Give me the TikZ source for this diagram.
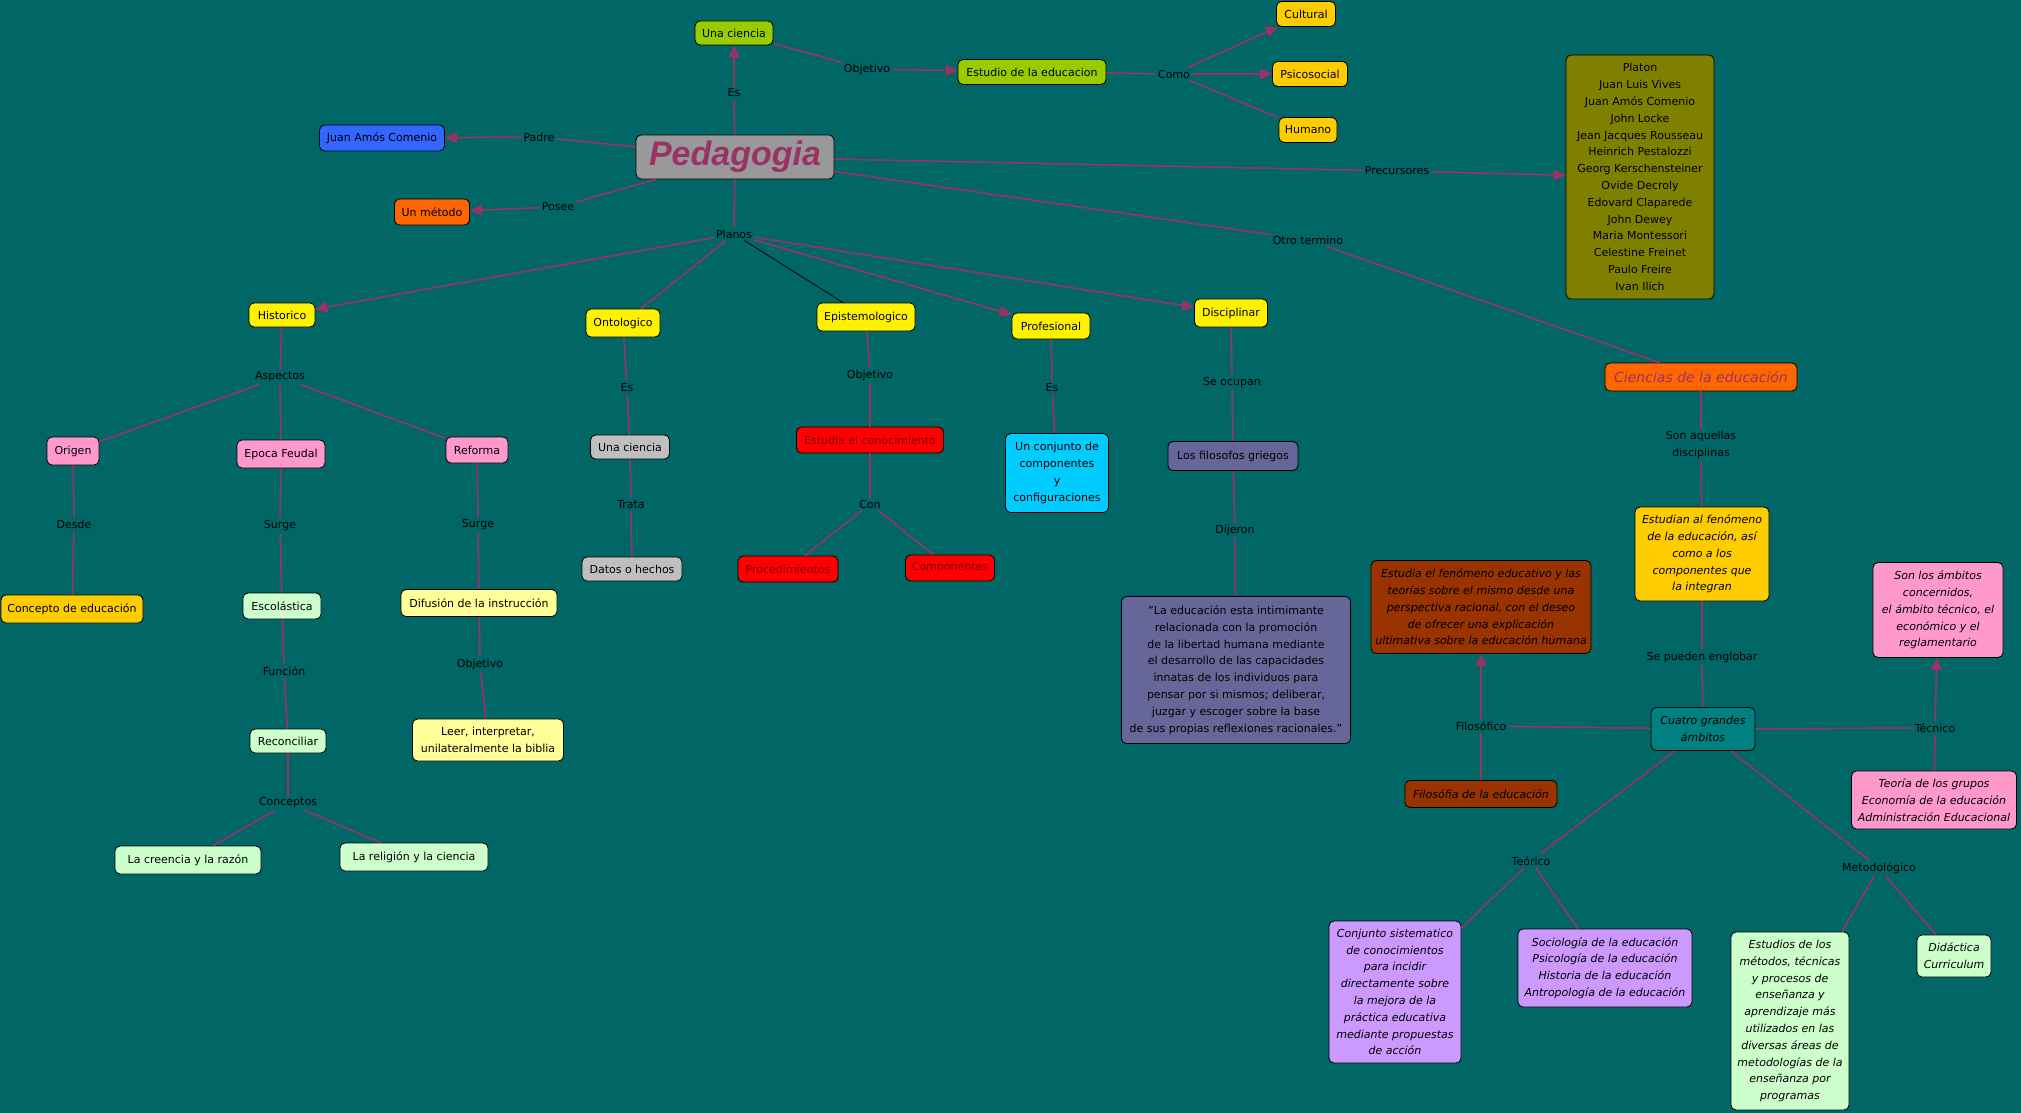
\documentclass[tikz,border=0pt]{standalone}
\usepackage{fontspec}
\setmainfont{DejaVu Sans}
\newfontfamily\pedfont{Liberation Sans}
\usepackage{xcolor}
\usepackage{tikz}
\usetikzlibrary{arrows.meta,positioning}
\definecolor{mapbg}{RGB}{0,102,102}
\definecolor{linkc}{RGB}{153,51,102}
\definecolor{limec}{RGB}{153,204,0}
\definecolor{goldc}{RGB}{255,204,0}
\definecolor{pinkc}{RGB}{255,153,204}
\definecolor{mintc}{RGB}{204,255,204}
\definecolor{paleyc}{RGB}{255,255,153}
\definecolor{slatec}{RGB}{102,102,153}
\definecolor{brownc}{RGB}{153,51,0}
\definecolor{lilac}{RGB}{204,153,255}
\definecolor{oranc}{RGB}{255,102,0}
\definecolor{olivec}{RGB}{128,128,0}
\definecolor{bluec}{RGB}{51,102,255}
\definecolor{skyc}{RGB}{0,204,255}
\definecolor{darkred}{RGB}{128,0,0}
\newcommand\mapfont{\fontsize{11}{16.8}\selectfont}

\begin{document}
\begin{tikzpicture}[x=1pt, y=-1pt,
    every node/.style={font=\mapfont},
    concept/.style={draw, line width=0.8pt, rounded corners=5pt, align=center, inner xsep=3pt, inner ysep=3pt},
    cit/.style={concept, font=\mapfont\itshape},
    lbl/.style={inner sep=2pt, align=center},
    lnk/.style={draw=linkc, line width=1.6pt},
    arr/.style={lnk, -{Triangle[length=12pt, width=11pt]}}
]
\useasboundingbox (0,0) rectangle (2021,1113);
\fill[mapbg] (0,0) rectangle (2021,1113);

\node[concept, fill=gray!80, minimum width=198pt, minimum height=44pt, text=linkc, font=\pedfont\bfseries\itshape\fontsize{34}{40}\selectfont] (ped) at (735,157) {Pedagogia};
\node[concept, fill=limec, minimum width=78pt, minimum height=24pt] (una) at (734,33) {Una ciencia};
\node[concept, fill=limec, minimum width=148pt, minimum height=25pt] (estudio) at (1032,72) {Estudio de la educacion};
\node[concept, fill=goldc, minimum width=59pt, minimum height=25pt] (cultural) at (1306,14) {Cultural};
\node[concept, fill=goldc, minimum width=75pt, minimum height=25pt] (psico) at (1310,74) {Psicosocial};
\node[concept, fill=goldc, minimum width=58pt, minimum height=25pt] (humano) at (1308,130) {Humano};
\node[concept, fill=bluec, minimum width=125pt, minimum height=26pt] (comenio) at (382,138) {Juan Amós Comenio};
\node[concept, fill=oranc, minimum width=75pt, minimum height=26pt] (metodo) at (432,212) {Un método};
\node[concept, fill=olivec, minimum width=148pt, minimum height=244pt] (precur) at (1640,177) {Platon\\Juan Luis Vives\\Juan Amós Comenio\\John Locke\\Jean Jacques Rousseau\\Heinrich Pestalozzi\\Georg Kerschensteiner\\Ovide Decroly\\Edovard Claparede\\John Dewey\\Maria Montessori\\Celestine Freinet\\Paulo Freire\\Ivan Ilich};

\node[concept, fill=yellow, minimum width=66pt, minimum height=24pt] (historico) at (282,315) {Historico};
\node[concept, fill=yellow, minimum width=74pt, minimum height=28pt] (onto) at (623,323) {Ontologico};
\node[concept, fill=yellow, minimum width=98pt, minimum height=28pt] (episte) at (866,317) {Epistemologico};
\node[concept, fill=yellow, minimum width=78pt, minimum height=26pt] (prof) at (1051,326) {Profesional};
\node[concept, fill=yellow, minimum width=73pt, minimum height=28pt] (disc) at (1231,313) {Disciplinar};

\node[concept, fill=pinkc, minimum width=52pt, minimum height=28pt] (origen) at (73,451) {Origen};
\node[concept, fill=pinkc, minimum width=88pt, minimum height=28pt] (feudal) at (281,454) {Epoca Feudal};
\node[concept, fill=pinkc, minimum width=62pt, minimum height=26pt] (reforma) at (477,450) {Reforma};
\node[concept, fill=goldc, minimum width=142pt, minimum height=28pt] (concepto) at (72,609) {Concepto de educación};
\node[concept, fill=mintc, minimum width=78pt, minimum height=26pt] (escol) at (282,606) {Escolástica};
\node[concept, fill=paleyc, minimum width=156pt, minimum height=27pt] (difusion) at (479,603) {Difusión de la instrucción};
\node[concept, fill=mintc, minimum width=76pt, minimum height=24pt] (reconc) at (288,741) {Reconciliar};
\node[concept, fill=paleyc, minimum width=151pt, minimum height=42pt] (leer) at (488,740) {Leer, interpretar,\\unilateralmente la biblia};
\node[concept, fill=mintc, minimum width=146pt, minimum height=28pt] (creencia) at (188,860) {La creencia y la razón};
\node[concept, fill=mintc, minimum width=148pt, minimum height=28pt] (religion) at (414,857) {La religión y la ciencia};

\node[concept, fill=lightgray, minimum width=79pt, minimum height=24pt] (ciencia2) at (630,447) {Una ciencia};
\node[concept, fill=lightgray, minimum width=100pt, minimum height=24pt] (datos) at (632,569) {Datos o hechos};
\node[concept, fill=red, text=darkred, minimum width=147pt, minimum height=26pt] (conoc) at (870,440) {Estudia el conocimiento};
\node[concept, fill=red, text=darkred, minimum width=100pt, minimum height=26pt] (proced) at (788,569) {Procedimientos};
\node[concept, fill=red, text=darkred, minimum width=89pt, minimum height=26pt] (compon) at (950,568) {Componentes};
\node[concept, fill=skyc, minimum width=103pt, minimum height=79pt] (conjunto) at (1057,473) {Un conjunto de\\componentes\\y\\configuraciones};
\node[concept, fill=slatec, minimum width=130pt, minimum height=29pt] (griegos) at (1233,456) {Los filosofos griegos};
\node[concept, fill=slatec, minimum width=229pt, minimum height=147pt] (quote) at (1236,670) {"La educación esta intimimante\\relacionada con la promoción\\de la libertad humana mediante\\el desarrollo de las capacidades\\innatas de los individuos para\\pensar por si mismos; deliberar,\\juzgar y escoger sobre la base\\de sus propias reflexiones racionales."};

\node[concept, fill=oranc, text=linkc, minimum width=192pt, minimum height=28pt, font=\fontsize{14}{17}\selectfont\itshape] (ciencias) at (1701,377) {Ciencias de la educación};
\node[cit, fill=goldc, minimum width=134pt, minimum height=94pt] (estudian) at (1702,554) {Estudian al fenómeno\\de la educación, así\\como a los\\componentes que\\la integran};
\node[cit, fill=teal, minimum width=104pt, minimum height=43pt] (cuatro) at (1703,729) {Cuatro grandes\\ámbitos};
\node[cit, fill=brownc, minimum width=220pt, minimum height=93pt] (fenomeno) at (1481,607) {Estudia el fenómeno educativo y las\\teorías sobre el mismo desde una\\perspectiva racional, con el deseo\\de ofrecer una explicación\\ultimativa sobre la educación humana};
\node[cit, fill=brownc, minimum width=152pt, minimum height=27pt] (filoedu) at (1481,794) {Filosófia de la educación};
\node[cit, fill=pinkc, minimum width=130pt, minimum height=95pt] (ambitos) at (1938,610) {Son los ámbitos\\concernidos,\\el ámbito técnico, el\\económico y el\\reglamentario};
\node[cit, fill=pinkc, minimum width=165pt, minimum height=58pt] (grupos) at (1934,800) {Teoría de los grupos\\Economía de la educación\\Administración Educacional};
\node[cit, fill=lilac, minimum width=132pt, minimum height=142pt] (sistem) at (1395,992) {Conjunto sistematico\\de conocimientos\\para incidir\\directamente sobre\\la mejora de la\\práctica educativa\\mediante propuestas\\de acción};
\node[cit, fill=lilac, minimum width=174pt, minimum height=78pt] (socio) at (1605,968) {Sociología de la educación\\Psicología de la educación\\Historia de la educación\\Antropología de la educación};
\node[cit, fill=mintc, minimum width=118pt, minimum height=178pt] (metodos) at (1790,1021) {Estudios de los\\métodos, técnicas\\y procesos de\\enseñanza y\\aprendizaje más\\utilizados en las\\diversas áreas de\\metodologías de la\\enseñanza por\\programas};
\node[cit, fill=mintc, minimum width=74pt, minimum height=42pt] (didac) at (1954,956) {Didáctica\\Curriculum};

\node[lbl] (lEs) at (734,93) {Es};
\node[lbl] (lObj) at (867,69) {Objetivo};
\node[lbl] (lComo) at (1174,74) {Como};
\node[lbl] (lPadre) at (539,137) {Padre};
\node[lbl] (lPosee) at (558,207) {Posee};
\node[lbl] (lPrecur) at (1397,171) {Precursores};
\node[lbl] (lOtro) at (1308,240) {Otro termino};
\node[lbl] (lPlanos) at (734,234) {Planos};
\node[lbl] (lAspectos) at (280,377) {Aspectos};
\node[lbl] (lDesde) at (74,524) {Desde};
\node[lbl] (lSurgeA) at (280,526) {Surge};
\node[lbl] (lSurgeB) at (478,525) {Surge};
\node[lbl] (lFuncion) at (284,671) {Función};
\node[lbl] (lObjB) at (480,664) {Objetivo};
\node[lbl] (lConceptos) at (288,803) {Conceptos};
\node[lbl] (lEsB) at (627,388) {Es};
\node[lbl] (lTrata) at (631,505) {Trata};
\node[lbl] (lObjC) at (870,375) {Objetivo};
\node[lbl] (lCon) at (870,504) {Con};
\node[lbl] (lEsC) at (1052,388) {Es};
\node[lbl] (lOcupan) at (1232,383) {Se ocupan};
\node[lbl] (lDijeron) at (1235,530) {Dijeron};
\node[lbl] (lSon) at (1701,445) {Son aquellas\\disciplinas};
\node[lbl] (lEnglobar) at (1702,657) {Se pueden englobar};
\node[lbl] (lFilo) at (1481,726) {Filosófico};
\node[lbl] (lTecnico) at (1935,728) {Técnico};
\node[lbl] (lTeorico) at (1531,861) {Teórico};
\node[lbl] (lMetodo) at (1879,868) {Metodológico};

\draw[lnk] (ped) -- (lEs);
\draw[arr] (lEs) -- (una);
\draw[lnk] (una) -- (lObj);
\draw[arr] (lObj) -- (estudio);
\draw[lnk] (estudio) -- (lComo);
\draw[arr] (lComo) -- (cultural);
\draw[arr] (lComo) -- (psico);
\draw[lnk] (lComo) -- (humano);
\draw[lnk] (ped) -- (lPadre);
\draw[arr] (lPadre) -- (comenio);
\draw[lnk] (ped) -- (lPosee);
\draw[arr] (lPosee) -- (metodo);
\draw[lnk] (ped) -- (lPrecur);
\draw[arr] (lPrecur) -- (precur);
\draw[lnk] (ped) -- (lOtro);
\draw[lnk] (lOtro) -- (ciencias);
\draw[lnk] (ped) -- (lPlanos);
\draw[arr] (lPlanos) -- (historico);
\draw[lnk] (lPlanos) -- (onto);
\draw[black, line width=0.8pt] (lPlanos) -- (episte);
\draw[arr] (lPlanos) -- (prof);
\draw[arr] (lPlanos) -- (disc);

\draw[lnk] (historico) -- (lAspectos);
\draw[lnk] (lAspectos) -- (origen);
\draw[lnk] (lAspectos) -- (feudal);
\draw[lnk] (lAspectos) -- (reforma);
\draw[lnk] (origen) -- (lDesde);
\draw[lnk] (lDesde) -- (concepto);
\draw[lnk] (feudal) -- (lSurgeA);
\draw[lnk] (lSurgeA) -- (escol);
\draw[lnk] (escol) -- (lFuncion);
\draw[lnk] (lFuncion) -- (reconc);
\draw[lnk] (reconc) -- (lConceptos);
\draw[lnk] (lConceptos) -- (creencia);
\draw[lnk] (lConceptos) -- (religion);
\draw[lnk] (reforma) -- (lSurgeB);
\draw[lnk] (lSurgeB) -- (difusion);
\draw[lnk] (difusion) -- (lObjB);
\draw[lnk] (lObjB) -- (leer);

\draw[lnk] (onto) -- (lEsB);
\draw[lnk] (lEsB) -- (ciencia2);
\draw[lnk] (ciencia2) -- (lTrata);
\draw[lnk] (lTrata) -- (datos);
\draw[lnk] (episte) -- (lObjC);
\draw[lnk] (lObjC) -- (conoc);
\draw[lnk] (conoc) -- (lCon);
\draw[lnk] (lCon) -- (proced);
\draw[lnk] (lCon) -- (compon);
\draw[lnk] (prof) -- (lEsC);
\draw[lnk] (lEsC) -- (conjunto);
\draw[lnk] (disc) -- (lOcupan);
\draw[lnk] (lOcupan) -- (griegos);
\draw[lnk] (griegos) -- (lDijeron);
\draw[lnk] (lDijeron) -- (quote);

\draw[lnk] (ciencias) -- (lSon);
\draw[lnk] (lSon) -- (estudian);
\draw[lnk] (estudian) -- (lEnglobar);
\draw[lnk] (lEnglobar) -- (cuatro);
\draw[lnk] (cuatro) -- (lFilo);
\draw[arr] (lFilo) -- (fenomeno);
\draw[lnk] (lFilo) -- (filoedu);
\draw[lnk] (cuatro) -- (lTecnico);
\draw[arr] (lTecnico) -- (ambitos);
\draw[lnk] (lTecnico) -- (grupos);
\draw[lnk] (cuatro) -- (lTeorico);
\draw[lnk] (lTeorico) -- (sistem);
\draw[lnk] (lTeorico) -- (socio);
\draw[lnk] (cuatro) -- (lMetodo);
\draw[lnk] (lMetodo) -- (metodos);
\draw[lnk] (lMetodo) -- (didac);
\end{tikzpicture}
\end{document}
